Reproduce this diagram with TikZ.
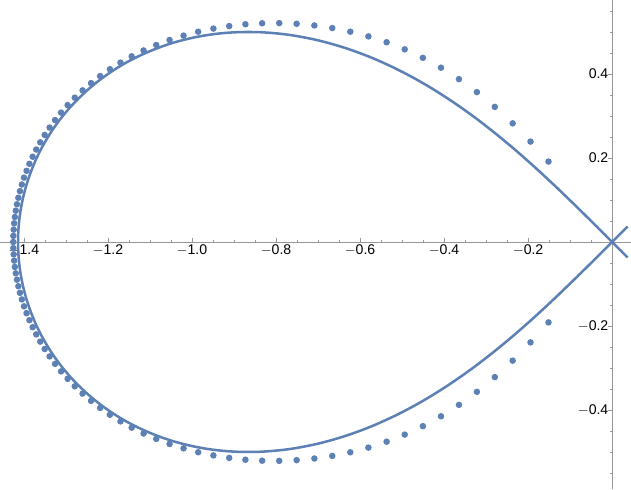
\documentclass[tikz,border=0pt]{standalone}
\usepackage{fontspec}
\setmainfont{Liberation Sans}
\definecolor{mblue}{RGB}{94,129,181}
\definecolor{axgray}{RGB}{150,150,150}
\begin{document}
\begin{tikzpicture}[x=10.5cm,y=10.5cm,
    tick/.style={axgray,line width=0.4pt},
    ticklabel/.style={font=\fontsize{10}{12}\selectfont,inner sep=1pt}]
    \useasboundingbox (-1.457,-0.588) rectangle (0.045,0.576);
    % assi
    \draw[axgray,line width=0.5pt] (-1.457,0) -- (0.045,0); % asse x
    \draw[axgray,line width=0.5pt] (0,-0.588) -- (0,0.576); % asse y
    \foreach \v in {-1.4,-1.35,...,-0.04}
        \draw[tick] (\v,0) -- (\v,0.004);
    \foreach \v/\t in {-1.4/{$-$1.4},-1.2/{$-$1.2},-1.0/{$-$1.0},-0.8/{$-$0.8},-0.6/{$-$0.6},-0.4/{$-$0.4},-0.2/{$-$0.2}}{
        \draw[tick] (\v,0) -- (\v,0.009);
        \node[ticklabel,below] at (\v,-0.002) {\t};}
    \foreach \v in {-0.55,-0.5,...,0.56}
        \draw[tick] (0,\v) -- (-0.004,\v);
    \foreach \v/\t in {0.4/0.4,0.2/0.2,-0.2/{$-$0.2},-0.4/{$-$0.4}}{
        \draw[tick] (0,\v) -- (-0.009,\v);
        \node[ticklabel,left] at (-0.005,\v) {\t};}
    % lemniscata
    \draw[mblue,line width=1.8pt,domain=87:273,samples=150,smooth,variable=\t]
        plot ({1.41421*cos(\t)/(1+sin(\t)^2)},{1.41421*sin(\t)*cos(\t)/(1+sin(\t)^2)});
    % punti
    \foreach \i in {-52,...,52}{
        \pgfmathsetmacro\u{abs(\i)/52}
        \pgfmathsetmacro\t{180-sign(\i)*78*(0.4*\u+0.6*\u*\u*\u)}
        \fill[mblue] ({1.008*1.41421*cos(\t)/(1+sin(\t)^2)},{(1.0+0.33*sin(\t)^4)*1.41421*sin(\t)*cos(\t)/(1+sin(\t)^2)}) circle (0.0078);}
\end{tikzpicture}
\end{document}
